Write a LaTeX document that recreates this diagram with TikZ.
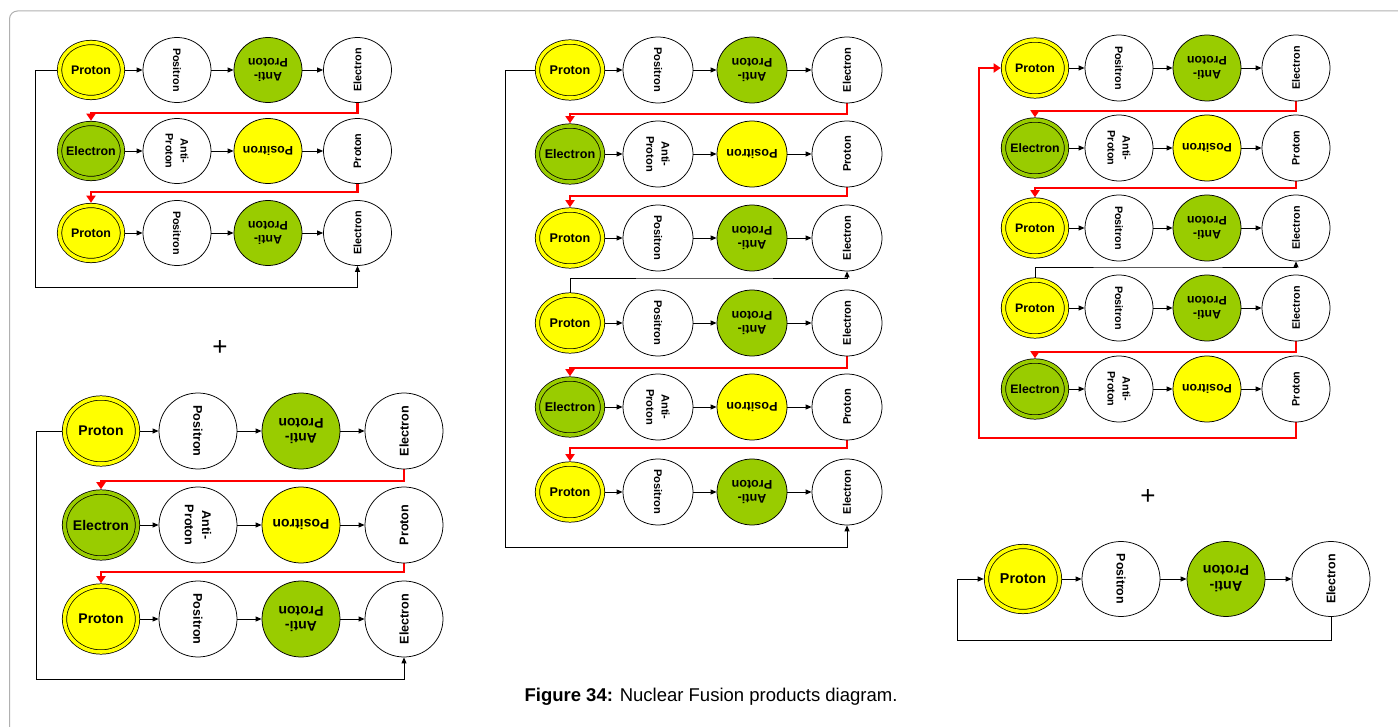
\documentclass[tikz,border=0pt]{standalone}
\usepackage{fontspec}
\setmainfont{Liberation Sans}
\usetikzlibrary{shapes.geometric,arrows.meta,backgrounds}
\definecolor{pyel}{HTML}{FFFF00}
\definecolor{pgrn}{HTML}{99CC00}
\definecolor{pred}{HTML}{FF0000}
\definecolor{pframe}{HTML}{B0B0B0}
\def\gW{68}\def\gH{65}\def\gBig{12.3}\def\gSmall{10.7}\def\gSkip{15}\def\gFSkip{13.5}
\tikzset{
  pbase/.style={ellipse, draw=black, line width=0.75pt, inner sep=0pt,
    minimum width=\gW pt, minimum height=\gH pt},
  pwhite/.style={pbase, fill=white},
  pgreen/.style={pbase, fill=pgrn},
  pyellow/.style={pbase, fill=pyel},
  pdouble/.style={pbase, minimum width=\gW pt-5pt, minimum height=\gH pt-10pt,
    double=#1, double distance=3.6pt, fill=#1},
  lblbig/.style={inner sep=0pt, font=\bfseries\fontsize{\gBig}{\gBig}\selectfont},
  lblflip/.style={inner sep=0pt, align=center, rotate=180, font=\bfseries\fontsize{\gBig}{\gFSkip}\selectfont},
  lblsmall/.style={inner sep=0pt, align=center, font=\bfseries\fontsize{\gSmall}{\gSkip}\selectfont},
  blkarr/.style={draw=black, line width=0.9pt, -{Triangle[length=6pt,width=5pt]}},
  redarr/.style={draw=pred, line width=2.3pt, -{Triangle[length=7pt,width=9pt]}, shorten >=2.4pt},
}
\newcommand\rowA[6]{%
  \node[pdouble=pyel] (#11) at (#3,#2) {};
  \node[lblbig] (#11t) at (#11) {Proton};
  \node[pwhite] (#12) at (#4,#2) {};
  \node[lblsmall, rotate=-90] (#12t) at (#12) {Positron};
  \node[pgreen] (#13) at (#5,#2) {};
  \node[lblflip] (#13t) at (#13) {Anti-\\Proton};
  \node[pwhite] (#14) at (#6,#2) {};
  \node[lblsmall, rotate=90] (#14t) at (#14) {Electron};
  \begin{scope}[on background layer]
    \draw[blkarr] (#11) -- (#12);
    \draw[blkarr] (#12) -- (#13);
    \draw[blkarr] (#13) -- (#14);
  \end{scope}}
\newcommand\rowB[6]{%
  \node[pdouble=pgrn] (#11) at (#3,#2) {};
  \node[lblbig] (#11t) at (#11) {Electron};
  \node[pwhite] (#12) at (#4,#2) {};
  \node[lblsmall, rotate=-90] (#12t) at (#12) {Anti-\\Proton};
  \node[pyellow] (#13) at (#5,#2) {};
  \node[lblflip] (#13t) at (#13) {Positron};
  \node[pwhite] (#14) at (#6,#2) {};
  \node[lblsmall, rotate=90] (#14t) at (#14) {Proton};
  \begin{scope}[on background layer]
    \draw[blkarr] (#11) -- (#12);
    \draw[blkarr] (#12) -- (#13);
    \draw[blkarr] (#13) -- (#14);
  \end{scope}}
\begin{document}
\begin{tikzpicture}[x=1pt,y=-1pt]
\useasboundingbox (0,0) rectangle (1398,727);
\clip (0,0) rectangle (1398,727);
\draw[pframe, line width=1pt, rounded corners=8pt] (9.5,11) rectangle (1430,760);

% ---------- group a (top left)
\begin{scope}
\def\gW{68}\def\gH{65}\def\gBig{12.4}\def\gSmall{10.8}\def\gSkip{15}\def\gFSkip{13.2}
\rowA{a1}{70}{91}{177}{268}{357.5}
\rowB{a2}{151}{91}{177}{268}{357.5}
\rowA{a3}{233}{91}{177}{268}{357.5}
\coordinate (ar1) at (200,113);
\coordinate (ar2) at (200,192);
\coordinate (aL) at (35,287);
\begin{scope}[on background layer]
\draw[redarr] (a14.south) |- (ar1) -| (a21.north);
\draw[redarr] (a24.south) |- (ar2) -| (a31.north);
\draw[blkarr] (a11.west) -| (aL) -| (a34.south);
\end{scope}
\end{scope}

\node[font=\fontsize{26}{26}\selectfont, inner sep=0pt] (plus1) at (220,348) {+};

% ---------- group b (bottom left)
\begin{scope}
\def\gW{78}\def\gH{76}\def\gBig{14}\def\gSmall{12.6}\def\gSkip{17.2}\def\gFSkip{15.8}
\rowA{b1}{431}{101}{198}{301}{404}
\rowB{b2}{525}{101}{198}{301}{404}
\rowA{b3}{619}{101}{198}{301}{404}
\coordinate (br1) at (200,481);
\coordinate (br2) at (200,572);
\coordinate (bL) at (36,679);
\begin{scope}[on background layer]
\draw[redarr] (b14.south) |- (br1) -| (b21.north);
\draw[redarr] (b24.south) |- (br2) -| (b31.north);
\draw[blkarr] (b11.west) -| (bL) -| (b34.south);
\end{scope}
\end{scope}

% ---------- group c (middle)
\begin{scope}
\def\gW{70}\def\gH{66}\def\gBig{12.6}\def\gSmall{11.1}\def\gSkip{15.4}\def\gFSkip{13.8}
\rowA{c1}{70}{570}{658}{752}{847}
\rowB{c2}{154}{570}{658}{752}{847}
\rowA{c3}{238}{570}{658}{752}{847}
\rowA{c4}{323}{570}{658}{752}{847}
\rowB{c5}{407}{570}{658}{752}{847}
\rowA{c6}{492}{570}{658}{752}{847}
\coordinate (cr1) at (700,114);
\coordinate (cr2) at (700,196);
\coordinate (ci) at (700,278);
\coordinate (cr4) at (700,368);
\coordinate (cr5) at (700,448);
\coordinate (cL) at (505,547);
\begin{scope}[on background layer]
\draw[redarr] (c14.south) |- (cr1) -| (c21.north);
\draw[redarr] (c24.south) |- (cr2) -| (c31.north);
\draw[blkarr] (c41.north) |- (ci) -| (c34.south);
\draw[redarr] (c44.south) |- (cr4) -| (c51.north);
\draw[redarr] (c54.south) |- (cr5) -| (c61.north);
\draw[blkarr] (c11.west) -| (cL) -| (c64.south);
\end{scope}
\end{scope}

% ---------- group d (top right)
\begin{scope}
\def\gW{68}\def\gH{66}\def\gBig{12.3}\def\gSmall{10.8}\def\gSkip{15}\def\gFSkip{13.4}
\rowA{d1}{68}{1035}{1119}{1207}{1296}
\rowB{d2}{148}{1035}{1119}{1207}{1296}
\rowA{d3}{228}{1035}{1119}{1207}{1296}
\rowA{d4}{308}{1035}{1119}{1207}{1296}
\rowB{d5}{389}{1035}{1119}{1207}{1296}
\coordinate (dr1) at (1150,111);
\coordinate (dr2) at (1150,188);
\coordinate (di) at (1150,267);
\coordinate (dr4) at (1150,352);
\coordinate (dL) at (979,438);
\begin{scope}[on background layer]
\draw[redarr] (d14.south) |- (dr1) -| (d21.north);
\draw[redarr] (d24.south) |- (dr2) -| (d31.north);
\draw[blkarr] (d41.north) |- (di) -| (d34.south);
\draw[redarr] (d44.south) |- (dr4) -| (d51.north);
\draw[redarr] (d54.south) |- (dL) |- (d11.west);
\end{scope}
\end{scope}

\node[font=\fontsize{26}{26}\selectfont, inner sep=0pt] (plus2) at (1148,497) {+};

% ---------- group e (bottom right)
\begin{scope}
\def\gW{78}\def\gH{75}\def\gBig{14.3}\def\gSmall{12.4}\def\gSkip{17}\def\gFSkip{15.8}
\rowA{e}{579}{1023}{1121}{1226}{1331}
\coordinate (eL) at (957,640);
\begin{scope}[on background layer]
\draw[blkarr, shorten >=2.4pt] (e4.south) |- (eL) |- (e1.west);
\end{scope}
\end{scope}

\node[anchor=base, inner sep=0pt, font=\fontsize{18.5}{18.5}\selectfont] (cap) at (711,701)
  {\textbf{Figure 34:} Nuclear Fusion products diagram.};
\end{tikzpicture}
\end{document}
